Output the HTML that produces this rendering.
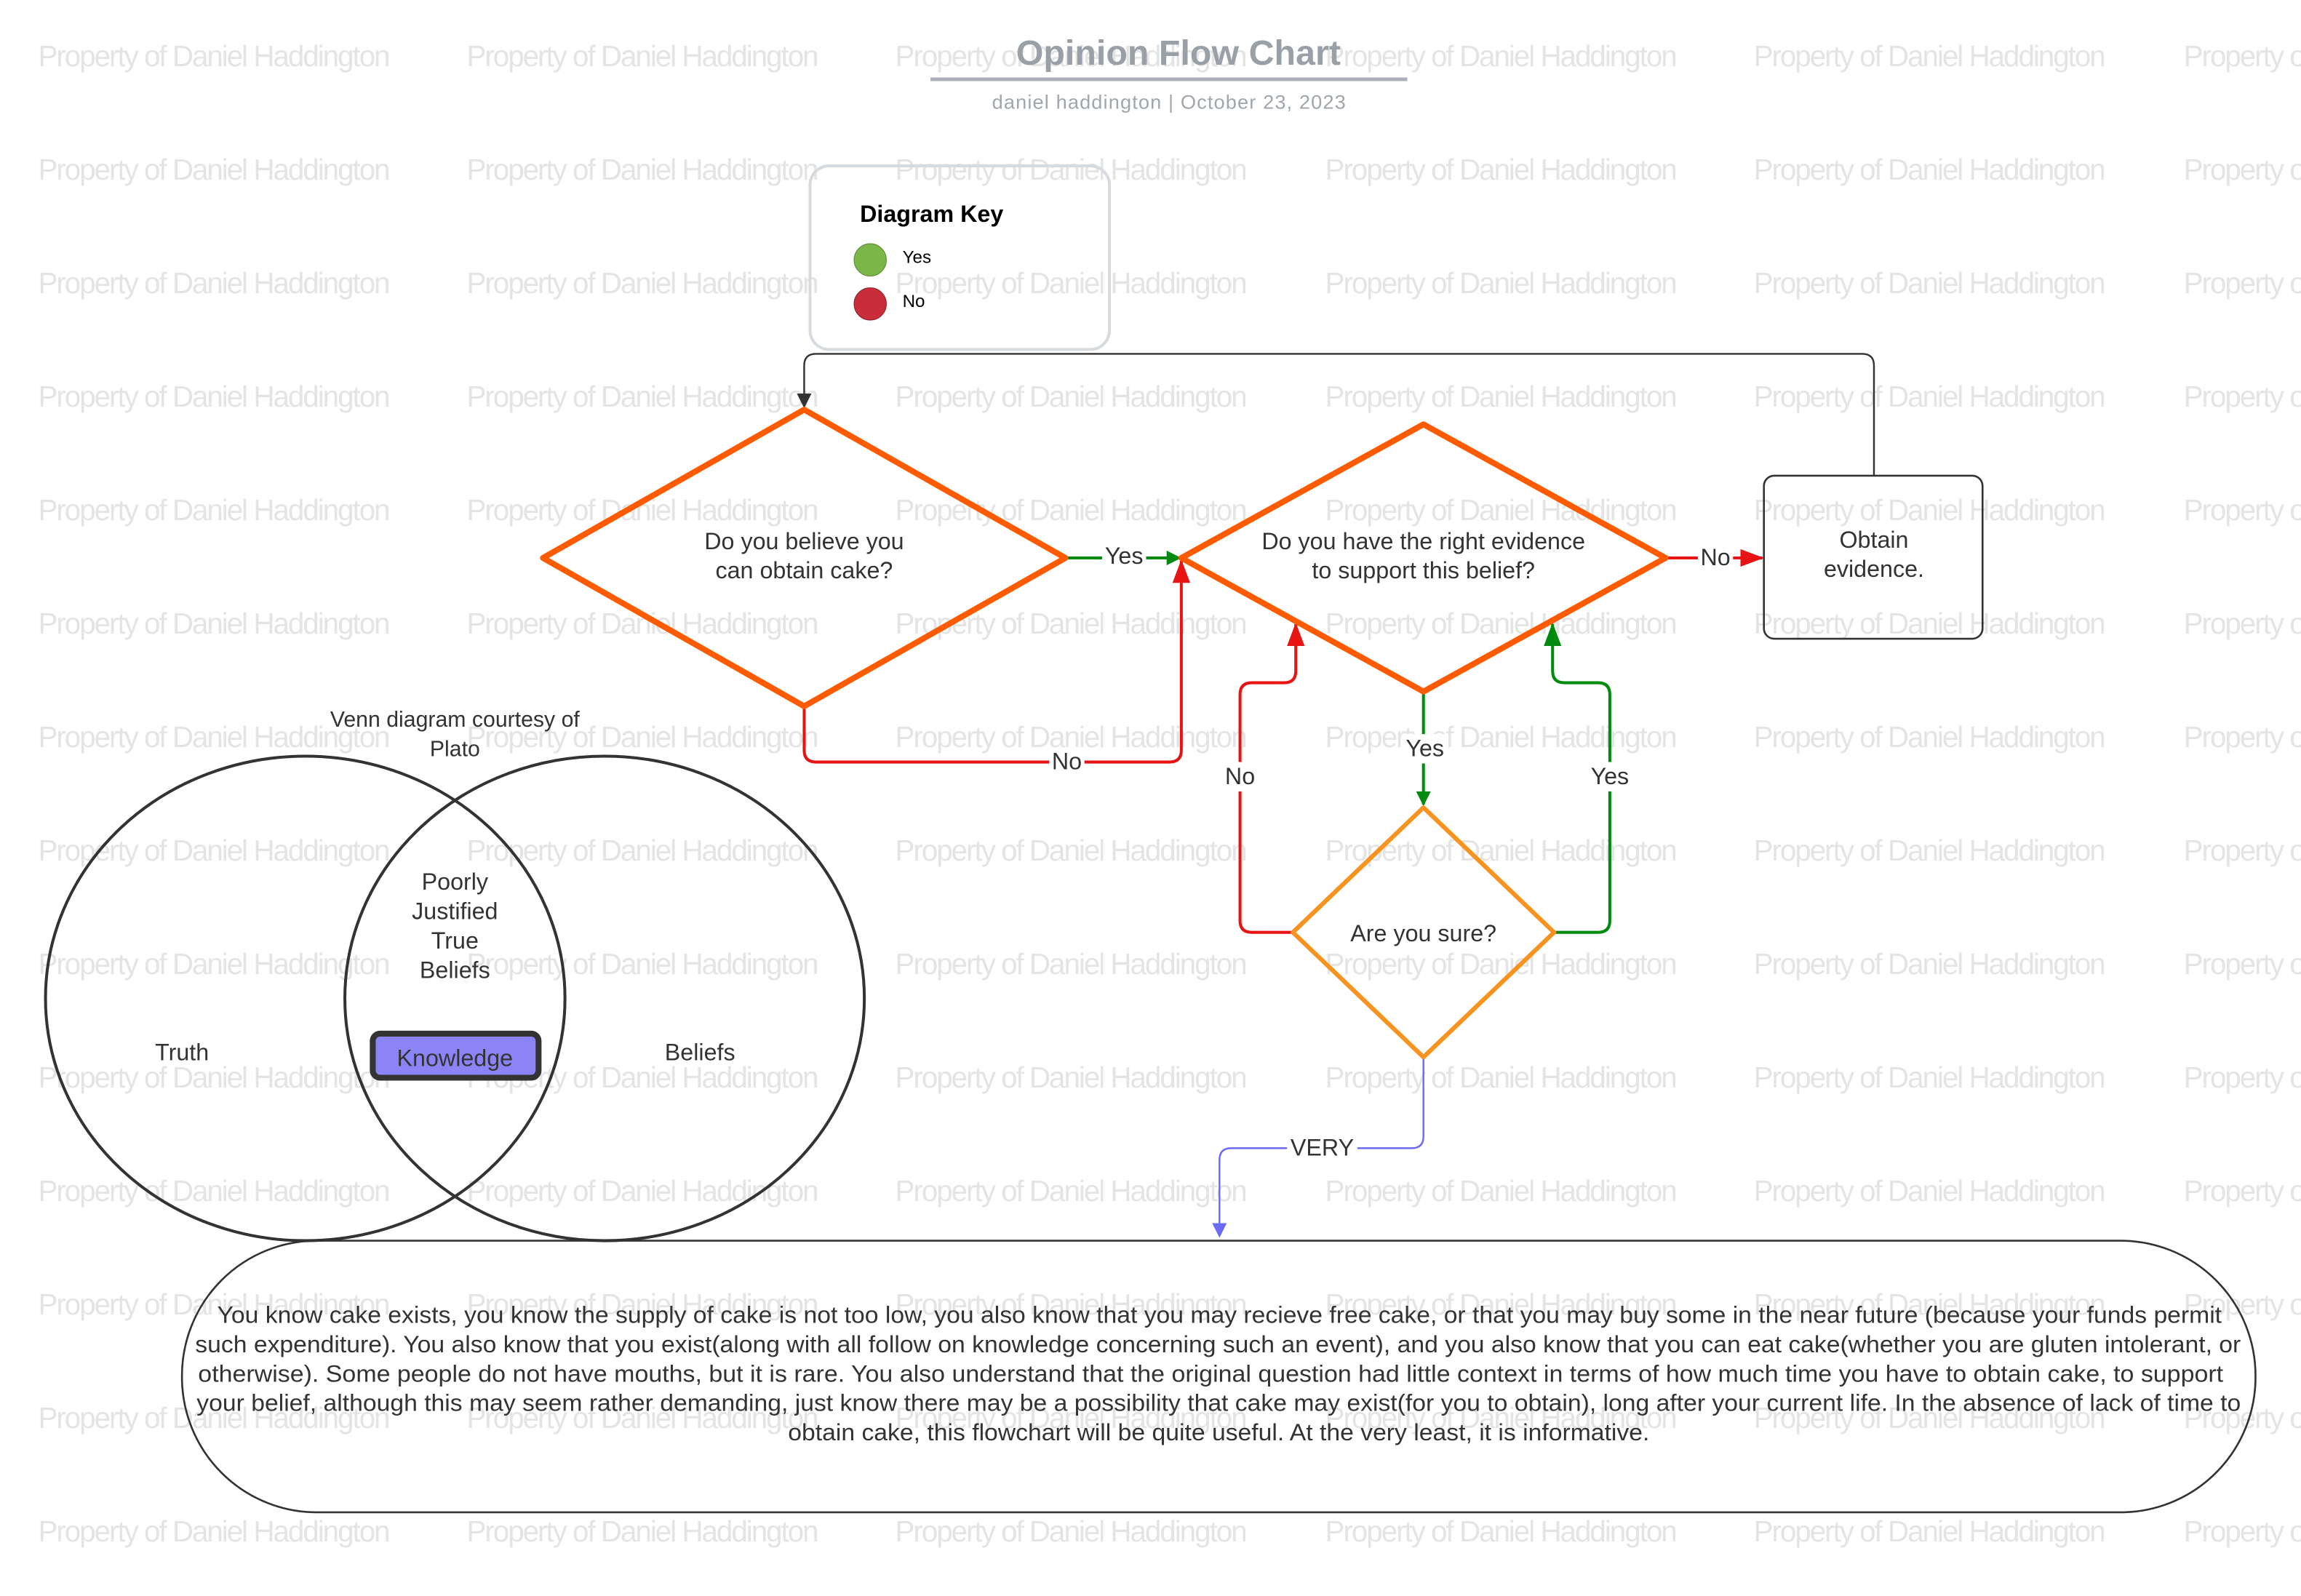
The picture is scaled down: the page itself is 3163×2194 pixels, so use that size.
<!DOCTYPE html>
<html><head><meta charset="utf-8"><style>html,body{margin:0;padding:0;background:#fff}svg{display:block}</style></head>
<body>
<svg xmlns="http://www.w3.org/2000/svg" width="3163" height="2194" viewBox="0 0 1568 1087" preserveAspectRatio="none" font-family="Liberation Sans, sans-serif">
<defs>
<marker id="ag" markerWidth="10" markerHeight="10" refX="9" refY="5" orient="auto" markerUnits="userSpaceOnUse"><path d="M0,0 L10,5 L0,10 z" fill="#008a0e"/></marker>
<marker id="ar" markerWidth="16" markerHeight="12" refX="15" refY="6" orient="auto" markerUnits="userSpaceOnUse"><path d="M0,0 L16,6 L0,12 z" fill="#e81313"/></marker>
<marker id="agb" markerWidth="16" markerHeight="12" refX="15" refY="6" orient="auto" markerUnits="userSpaceOnUse"><path d="M0,0 L16,6 L0,12 z" fill="#008a0e"/></marker>
<marker id="ak" markerWidth="10" markerHeight="10" refX="9" refY="5" orient="auto" markerUnits="userSpaceOnUse"><path d="M0,0 L10,5 L0,10 z" fill="#333"/></marker>
<marker id="ap" markerWidth="10" markerHeight="10" refX="9" refY="5" orient="auto" markerUnits="userSpaceOnUse"><path d="M0,0 L10,5 L0,10 z" fill="#6a6af5"/></marker>
</defs>
<g fill="#e4e4e4" font-size="20">
<g id="wr">
<text x="26" y="45" textLength="240">Property of Daniel Haddington</text>
<text x="318" y="45" textLength="240">Property of Daniel Haddington</text>
<text x="610" y="45" textLength="240">Property of Daniel Haddington</text>
<text x="903" y="45" textLength="240">Property of Daniel Haddington</text>
<text x="1195" y="45" textLength="240">Property of Daniel Haddington</text>
<text x="1488" y="45" textLength="240">Property of Daniel Haddington</text>
</g>
<use href="#wr" y="77.3"/><use href="#wr" y="154.6"/><use href="#wr" y="231.9"/><use href="#wr" y="309.2"/>
<use href="#wr" y="386.5"/><use href="#wr" y="463.8"/><use href="#wr" y="541.1"/><use href="#wr" y="618.4"/>
<use href="#wr" y="695.7"/><use href="#wr" y="773"/><use href="#wr" y="850.3"/><use href="#wr" y="927.6"/><use href="#wr" y="1004.9"/>
</g>
<text x="803" y="44" text-anchor="middle" font-size="24" font-weight="bold" fill="#9aa0a8">Opinion Flow Chart</text>
<line x1="634" y1="54" x2="959" y2="54" stroke="#a9b0b9" stroke-width="2.5"/>
<text x="676" y="74" textLength="241" font-size="13.5" fill="#a0a6ae">daniel haddington  |  October 23, 2023</text>

<rect x="552" y="113" width="204" height="125" rx="13" fill="none" stroke="#d6dbe0" stroke-width="2"/>
<text x="586" y="151" font-size="16" font-weight="bold" fill="#000">Diagram Key</text>
<circle cx="593" cy="177" r="11" fill="#7ab648" stroke="#5a8a35" stroke-width="0.5"/>
<circle cx="593" cy="207" r="11" fill="#c92d39" stroke="#8a1f27" stroke-width="0.5"/>
<text x="615" y="179" font-size="12" fill="#000">Yes</text>
<text x="615" y="209" font-size="12" fill="#000">No</text>

<g fill="none" stroke-width="2">
<path d="M1277,324 V249 Q1277,241 1269,241 H556 Q548,241 548,249 V277" stroke="#333" stroke-width="1.2" marker-end="url(#ak)"/>
<path d="M726,380 H804" stroke="#008a0e" marker-end="url(#ag)"/>
<path d="M548,481 V511 Q548,519 556,519 H797 Q805,519 805,511 V382" stroke="#e81313" marker-end="url(#ar)"/>
<path d="M1135,380 H1201" stroke="#e81313" marker-end="url(#ar)"/>
<path d="M970,471 V548" stroke="#008a0e" marker-end="url(#ag)"/>
<path d="M881,635 H853 Q845,635 845,627 V473 Q845,465 853,465 H875 Q883,465 883,457 V425" stroke="#e81313" marker-end="url(#ar)"/>
<path d="M1059,635 H1089 Q1097,635 1097,627 V473 Q1097,465 1089,465 H1066 Q1058,465 1058,457 V425" stroke="#008a0e" marker-end="url(#agb)"/>
<path d="M970,720 V774 Q970,782 962,782 H839 Q831,782 831,790 V842" stroke="#6a6af5" stroke-width="1.2" marker-end="url(#ap)"/>
</g>
<g font-size="16" fill="#333" text-anchor="middle">
<rect x="751" y="370" width="30" height="18" fill="#fff"/><text x="766" y="384">Yes</text>
<rect x="715" y="510" width="24" height="18" fill="#fff"/><text x="727" y="524">No</text>
<rect x="1157" y="370" width="24" height="18" fill="#fff"/><text x="1169" y="385">No</text>
<rect x="956" y="500" width="30" height="20" fill="#fff"/><text x="971" y="515">Yes</text>
<rect x="833" y="519" width="24" height="20" fill="#fff"/><text x="845" y="534">No</text>
<rect x="1082" y="519" width="30" height="20" fill="#fff"/><text x="1097" y="534">Yes</text>
<rect x="877" y="773" width="48" height="18" fill="#fff"/><text x="901" y="787">VERY</text>
</g>

<path d="M548,279 L726,380 L548,481 L370,380 Z" fill="none" stroke="#fe5b00" stroke-width="4" stroke-linejoin="round"/>
<path d="M970,289 L1135,380 L970,471 L805,380 Z" fill="none" stroke="#fe5b00" stroke-width="4" stroke-linejoin="round"/>
<path d="M970,550 L1059,635 L970,720 L881,635 Z" fill="none" stroke="#f7931e" stroke-width="3" stroke-linejoin="round"/>
<rect x="1202" y="324" width="149" height="111" rx="7" fill="none" stroke="#333" stroke-width="1.3"/>
<g font-size="16" fill="#333" text-anchor="middle">
<text x="548" y="374">Do you believe you</text><text x="548" y="394">can obtain cake?</text>
<text x="970" y="374">Do you have the right evidence</text><text x="970" y="394">to support this belief?</text>
<text x="970" y="641">Are you sure?</text>
<text x="1277" y="373">Obtain</text><text x="1277" y="393">evidence.</text>
<text x="310" y="495" font-size="15">Venn diagram courtesy of</text><text x="310" y="515" font-size="15">Plato</text>
<text x="310" y="606">Poorly</text><text x="310" y="626">Justified</text><text x="310" y="646">True</text><text x="310" y="666">Beliefs</text>
<text x="124" y="722">Truth</text><text x="477" y="722">Beliefs</text>
</g>
<ellipse cx="208" cy="680" rx="177" ry="165" fill="none" stroke="#333" stroke-width="2"/>
<ellipse cx="412" cy="680" rx="177" ry="165" fill="none" stroke="#333" stroke-width="2"/>
<rect x="254" y="704" width="113" height="30" rx="5" fill="#8b84f6" stroke="#333" stroke-width="4"/>
<text x="310" y="726" text-anchor="middle" font-size="16" fill="#333">Knowledge</text>

<rect x="124" y="845" width="1413" height="185" rx="92" fill="none" stroke="#333" stroke-width="1.3"/>
<g font-size="16" fill="#333">
<text x="148" y="901" textLength="1366" lengthAdjust="spacingAndGlyphs">You know cake exists, you know the supply of cake is not too low, you also know that you may recieve free cake, or that you may buy some in the near future (because your funds permit</text>
<text x="133" y="921" textLength="1394" lengthAdjust="spacingAndGlyphs">such expenditure). You also know that you exist(along with all follow on knowledge concerning such an event), and you also know that you can eat cake(whether you are gluten intolerant, or</text>
<text x="135" y="941" textLength="1380" lengthAdjust="spacingAndGlyphs">otherwise). Some people do not have mouths, but it is rare. You also understand that the original question had little context in terms of how much time you have to obtain cake, to support</text>
<text x="134" y="961" textLength="1393" lengthAdjust="spacingAndGlyphs">your belief, although this may seem rather demanding, just know there may be a possibility that cake may exist(for you to obtain), long after your current life. In the absence of lack of time to</text>
<text x="537" y="981" textLength="587" lengthAdjust="spacingAndGlyphs">obtain cake, this flowchart will be quite useful. At the very least, it is informative.</text>
</g>
</svg>
</body></html>
